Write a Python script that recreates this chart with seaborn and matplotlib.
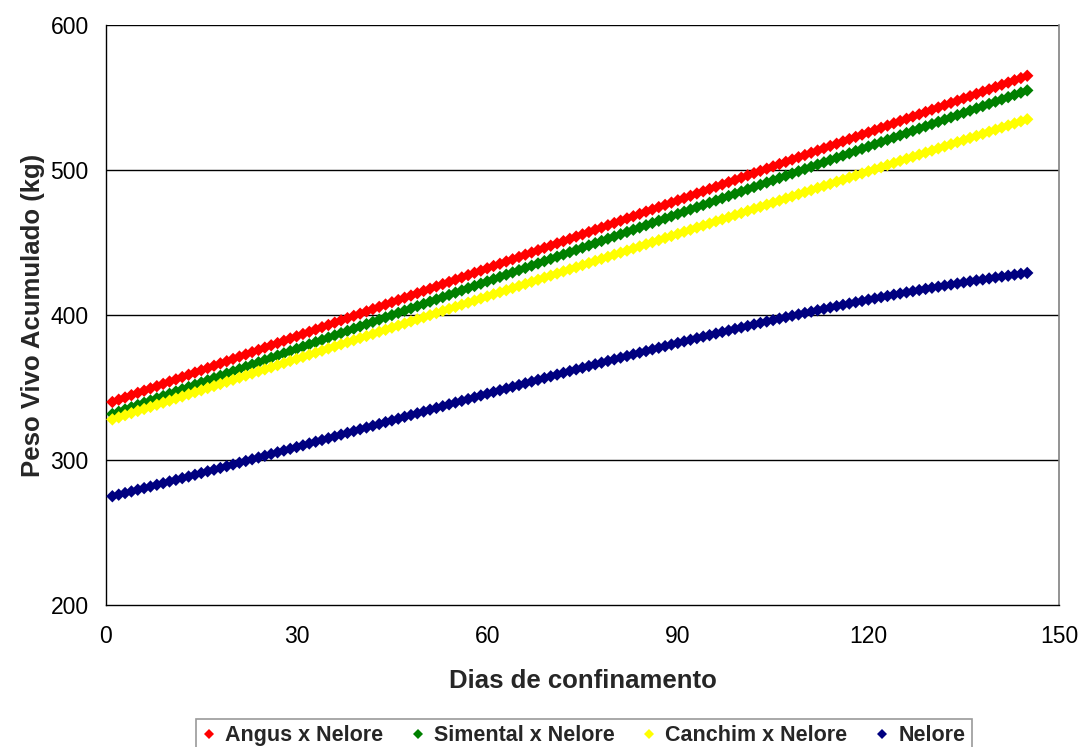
import matplotlib
matplotlib.use("Agg")
import matplotlib.pyplot as plt
import pandas as pd
import seaborn as sns
from matplotlib.lines import Line2D

# Dias de confinamento (1 a 145)
dias = list(range(1, 146))

angus_nelore = [
    340.0, 341.6, 343.1, 344.7, 346.3, 347.8, 349.4, 350.9, 352.5, 354.1, 355.6, 357.2, 358.8, 360.3, 361.9, 363.4,
    365.0, 366.6, 368.1, 369.7, 371.3, 372.8, 374.4, 375.9, 377.5, 379.1, 380.6, 382.2, 383.8, 385.3, 386.9, 388.4,
    390.0, 391.6, 393.1, 394.7, 396.3, 397.8, 399.4, 400.9, 402.5, 404.1, 405.6, 407.2, 408.8, 410.3, 411.9, 413.4,
    415.0, 416.6, 418.1, 419.7, 421.3, 422.8, 424.4, 425.9, 427.5, 429.1, 430.6, 432.2, 433.8, 435.3, 436.9, 438.4,
    440.0, 441.6, 443.1, 444.7, 446.3, 447.8, 449.4, 450.9, 452.5, 454.1, 455.6, 457.2, 458.8, 460.3, 461.9, 463.4,
    465.0, 466.6, 468.1, 469.7, 471.3, 472.8, 474.4, 475.9, 477.5, 479.1, 480.6, 482.2, 483.8, 485.3, 486.9, 488.4,
    490.0, 491.6, 493.1, 494.7, 496.3, 497.8, 499.4, 500.9, 502.5, 504.1, 505.6, 507.2, 508.8, 510.3, 511.9, 513.4,
    515.0, 516.6, 518.1, 519.7, 521.3, 522.8, 524.4, 525.9, 527.5, 529.1, 530.6, 532.2, 533.8, 535.3, 536.9, 538.4,
    540.0, 541.6, 543.1, 544.7, 546.3, 547.8, 549.4, 550.9, 552.5, 554.1, 555.6, 557.2, 558.8, 560.3, 561.9, 563.4,
    565.0,
]

simental_nelore = [
    331.70, 333.25, 334.80, 336.35, 337.90, 339.45, 341.00, 342.55, 344.10, 345.65,
    347.20, 348.75, 350.30, 351.85, 353.40, 354.95, 356.50, 358.05, 359.60, 361.15,
    362.70, 364.25, 365.80, 367.35, 368.90, 370.45, 372.00, 373.55, 375.10, 376.65,
    378.20, 379.75, 381.30, 382.85, 384.40, 385.95, 387.50, 389.05, 390.60, 392.15,
    393.70, 395.25, 396.80, 398.35, 399.90, 401.45, 403.00, 404.55, 406.10, 407.65,
    409.20, 410.75, 412.30, 413.85, 415.40, 416.95, 418.50, 420.05, 421.60, 423.15,
    424.70, 426.25, 427.80, 429.35, 430.90, 432.45, 434.00, 435.55, 437.10, 438.65,
    440.20, 441.75, 443.30, 444.85, 446.40, 447.95, 449.50, 451.05, 452.60, 454.15,
    455.70, 457.25, 458.80, 460.35, 461.90, 463.45, 465.00, 466.55, 468.10, 469.65,
    471.20, 472.75, 474.30, 475.85, 477.40, 478.95, 480.50, 482.05, 483.60, 485.15,
    486.70, 488.25, 489.80, 491.35, 492.90, 494.45, 496.00, 497.55, 499.10, 500.65,
    502.20, 503.75, 505.30, 506.85, 508.40, 509.95, 511.50, 513.05, 514.60, 516.15,
    517.70, 519.25, 520.80, 522.35, 523.90, 525.45, 527.00, 528.55, 530.10, 531.65,
    533.20, 534.75, 536.30, 537.85, 539.40, 540.95, 542.50, 544.05, 545.60, 547.15,
    548.70, 550.25, 551.80, 553.35, 554.90,
]

canchim_nelore = [
    328.0, 329.4, 330.9, 332.3, 333.8, 335.2, 336.6, 338.1, 339.5, 340.9, 342.4, 343.8, 345.3, 346.7, 348.1, 349.6,
    351.0, 352.4, 353.9, 355.3, 356.8, 358.2, 359.6, 361.1, 362.5, 363.9, 365.4, 366.8, 368.3, 369.7, 371.1, 372.6,
    374.0, 375.4, 376.9, 378.3, 379.8, 381.2, 382.6, 384.1, 385.5, 386.9, 388.4, 389.8, 391.3, 392.7, 394.1, 395.6,
    397.0, 398.4, 399.9, 401.3, 402.8, 404.2, 405.6, 407.1, 408.5, 409.9, 411.4, 412.8, 414.3, 415.7, 417.1, 418.6,
    420.0, 421.4, 422.9, 424.3, 425.8, 427.2, 428.6, 430.1, 431.5, 432.9, 434.4, 435.8, 437.3, 438.7, 440.1, 441.6,
    443.0, 444.4, 445.9, 447.3, 448.8, 450.2, 451.6, 453.1, 454.5, 455.9, 457.4, 458.8, 460.3, 461.7, 463.1, 464.6,
    466.0, 467.4, 468.9, 470.3, 471.8, 473.2, 474.6, 476.1, 477.5, 478.9, 480.4, 481.8, 483.3, 484.7, 486.1, 487.6,
    489.0, 490.4, 491.9, 493.3, 494.8, 496.2, 497.6, 499.1, 500.5, 501.9, 503.4, 504.8, 506.3, 507.7, 509.1, 510.6,
    512.0, 513.4, 514.9, 516.3, 517.8, 519.2, 520.6, 522.1, 523.5, 524.9, 526.4, 527.8, 529.3, 530.7, 532.1, 533.6,
    535.0,
]

nelore = [
    275.0, 276.1, 277.2, 278.3, 279.5, 280.6, 281.7, 282.9, 284.0, 285.2,
    286.3, 287.5, 288.6, 289.8, 291.0, 292.2, 293.3, 294.5, 295.7, 296.9,
    298.1, 299.3, 300.5, 301.7, 302.9, 304.1, 305.3, 306.5, 307.7, 308.9,
    310.1, 311.4, 312.6, 313.8, 315.0, 316.2, 317.5, 318.7, 319.9, 321.2,
    322.4, 323.6, 324.8, 326.1, 327.3, 328.5, 329.8, 331.0, 332.2, 333.4,
    334.7, 335.9, 337.1, 338.4, 339.6, 340.8, 342.0, 343.2, 344.5, 345.7,
    346.9, 348.1, 349.3, 350.5, 351.7, 352.9, 354.1, 355.3, 356.5, 357.7,
    358.9, 360.1, 361.3, 362.5, 363.6, 364.8, 366.0, 367.1, 368.3, 369.4,
    370.6, 371.7, 372.9, 374.0, 375.1, 376.3, 377.4, 378.5, 379.6, 380.7,
    381.8, 382.9, 384.0, 385.1, 386.1, 387.2, 388.3, 389.3, 390.4, 391.4,
    392.4, 393.5, 394.5, 395.5, 396.5, 397.5, 398.5, 399.5, 400.4, 401.4,
    402.3, 403.3, 404.2, 405.2, 406.1, 407.0, 407.9, 408.8, 409.7, 410.6,
    411.4, 412.3, 413.1, 414.0, 414.8, 415.6, 416.4, 417.2, 418.0, 418.8,
    419.5, 420.3, 421.0, 421.7, 422.5, 423.2, 423.9, 424.5, 425.2, 425.9,
    426.5, 427.1, 427.8, 428.4, 429.0,
]

grupos = ["Angus x Nelore", "Simental x Nelore", "Canchim x Nelore", "Nelore"]
cores = ["#FF0000", "#008000", "#FFFF00", "#000080"]

x_ticks = [0, 30, 60, 90, 120, 150]
y_ticks = [200, 300, 400, 500, 600]

pesos = [angus_nelore, simental_nelore, canchim_nelore, nelore]
df = pd.DataFrame({
    "dia": dias * len(grupos),
    "peso": [p for serie in pesos for p in serie],
    "grupo": [g for g in grupos for _ in dias],
})

sns.set_theme(style="white")
plt.rcParams["font.family"] = ["Liberation Sans", "DejaVu Sans"]

fig = plt.figure(figsize=(10.79, 7.47), dpi=100)
ax = fig.add_axes([106 / 1079, 1 - 605 / 747, 953 / 1079, 580 / 747])

sns.scatterplot(
    data=df, x="dia", y="peso", hue="grupo", hue_order=grupos,
    palette=cores, marker="D", s=40, edgecolor="none", linewidth=0,
    legend=False, ax=ax, zorder=3,
)

ax.set_xlim(0, 150)
ax.set_ylim(200, 600)
ax.set_xticks(x_ticks)
ax.set_yticks(y_ticks)
ax.tick_params(axis="both", labelsize=16.5, colors="black", direction="out",
               length=5.5, width=1)
ax.tick_params(axis="x", pad=9)
ax.tick_params(axis="y", pad=7)
for y in y_ticks[1:]:
    ax.axhline(y, color="black", lw=1, zorder=1)

for side in ["left", "bottom"]:
    ax.spines[side].set_color("black")
    ax.spines[side].set_linewidth(1)
ax.spines["right"].set_color("#808080")
ax.spines["right"].set_linewidth(1.2)
ax.spines["top"].set_visible(False)

ax.set_xlabel("Dias de confinamento", fontsize=18.5, fontweight="bold", labelpad=15)
ax.set_ylabel("Peso Vivo Acumulado (kg)", fontsize=18.5, fontweight="bold", labelpad=4)

handles = [Line2D([], [], marker="D", ls="none", markersize=5, color=c,
                  markeredgewidth=0) for c in cores]
leg = fig.legend(
    handles, grupos, loc="upper center", bbox_to_anchor=(584 / 1079, 1 - 708 / 747),
    ncol=4, frameon=True, fancybox=False, prop={"weight": "bold", "size": 15.5},
    handlelength=0.6, handletextpad=0.45, columnspacing=1.3, borderpad=0.3,
)
leg.get_frame().set_edgecolor("#808080")
leg.get_frame().set_linewidth(1.2)

fig.savefig("out.png", dpi=100, facecolor="white")
